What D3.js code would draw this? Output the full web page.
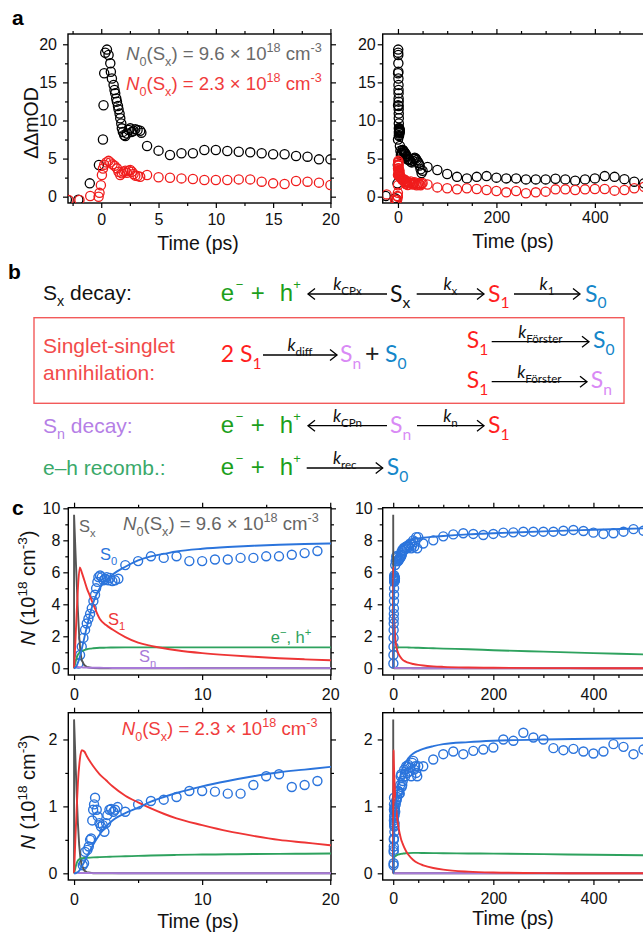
<!DOCTYPE html>
<html>
<head>
<meta charset="utf-8">
<script src="https://cdn.jsdelivr.net/npm/d3@7"></script>
<style>
  body { margin: 0; background: #fff; }
  svg text { font-family: "Liberation Sans", Arial, sans-serif; }
  .tick line { stroke: #000; stroke-width: 1.2; }
  .tick text { font-size: 16px; fill: #111; }
</style>
</head>
<body>
<div id="fig"></div>
<script>
// ---------- panel a : transient absorption (ΔΔmOD) ----------
var tLate = [22, 24, 26, 28, 30, 32, 34, 36, 38, 40, 42, 44, 46, 48, 50,
  60, 80, 100, 120, 140, 160, 180, 200, 220, 240, 260, 280, 300, 320, 340, 360, 380, 400, 420, 440, 460, 480, 500];

var tBlack = [-25, -6, -3, -2, -1, -0.2, 0.15, 0.2, 0.26, 0.35, 0.5, 0.64, 0.79, 0.84, 0.93, 1.08, 1.16, 1.22,
  1.31, 1.37, 1.46, 1.51, 1.6, 1.66, 1.75, 1.8, 1.89, 2.0, 2.1, 2.24, 2.39, 2.53, 2.68, 2.82, 2.97, 3.17, 3.4, 3.5,
  4, 5, 6, 7, 8, 9, 10, 11, 12, 13, 14, 15, 16, 17, 18, 19, 20].concat(tLate);
var vBlack = [0.1, -0.2, -0.4, -0.4, 1.75, 4.15, 7.5, 12, 16.2, 18.9, 19.3, 18.6, 17.5, 16.4, 15.5, 14.65, 14, 13.56,
  12.9, 12.47, 11.9, 11.46, 10.9, 10.3, 9.6, 8.97, 8.5, 8.1, 7.96, 8.3, 8.75, 8.97, 8.5, 8.66, 8.84, 8.75, 8.66, 8.4,
  6.65, 6.04, 5.47, 5.69, 5.69, 6.12, 6.12, 6.0, 5.9, 5.82, 5.69, 5.56, 5.56, 5.34, 5.25, 4.9, 4.9,
  4.9, 4.8, 4.6, 4.5, 4.7, 5.0, 5.1, 5.0, 4.8, 4.6, 4.4, 4.1, 3.6, 3.1, 3.4,
  3.9, 3.5, 2.97, 2.6, 2.4, 2.6, 2.7, 2.5, 2.4, 2.4, 2.27, 2.27, 2.27, 2.36, 2.27, 2.1, 2.27, 2.4, 2.7, 2.6, 2.3, 1.97, 1.75];

var tRed = [-23, -6, -2.85, -1.9, -0.96, -0.23, -0.15, -0.03, 0.06, 0.15, 0.26, 0.44, 0.64, 0.79, 0.99, 1.16, 1.37,
  1.51, 1.66, 1.8, 1.95, 2.1, 2.24, 2.39, 2.53, 2.68, 2.82, 2.97, 3.17, 3.4,
  4, 5, 6, 7, 8, 9, 10, 11, 12, 13, 14, 15, 16, 17, 18, 19, 20].concat(tLate);
var vRed = [0.3, -0.4, -0.44, -0.44, 0.09, 0, 0.5, 1.5, 2.84, 3.7, 4.2, 4.5, 4.7, 4.5, 4.24, 4.07, 3.72,
  3.28, 2.84, 3.06, 3.28, 3.41, 3.15, 3.41, 3.5, 3.28, 2.97, 2.76, 2.71, 2.62,
  2.84, 2.54, 2.49, 2.4, 2.32, 2.19, 2.19, 2.19, 2.27, 2.27, 1.97, 1.75, 1.66, 2.06, 1.97, 1.84, 1.53,
  1.9, 1.8, 2.0, 1.7, 1.6, 1.8, 1.9, 1.7, 1.5, 1.6, 1.8, 1.6, 1.5, 1.7, 1.8,
  1.6, 1.22, 1.1, 0.96, 1.1, 1.0, 0.87, 0.74, 0.57, 0.74, 0.44, 0.57, 0.66, 0.96, 0.96, 0.87, 0.96, 1.0, 1.0, 0.79, 0.87, 1.1, 1.3];

// ---------- panel c : S0 populations (circles) ----------
var tS0Hi = [0.34, 0.47, 0.6, 0.73, 0.86, 0.99, 1.12, 1.25, 1.38, 1.51, 1.64, 1.72, 1.82, 1.9, 2.03, 2.16, 2.29,
  2.42, 2.55, 2.68, 2.81, 2.99, 3.2, 3.46, 4, 5, 6, 7, 8, 9, 10, 11, 12, 13, 14, 15, 16, 17, 18, 19].concat(tLate);
var vS0Hi = [0.3, 0.83, 1.35, 1.9, 2.4, 2.8, 3.1, 3.4, 3.75, 4.2, 4.6, 5.0, 5.4, 5.7, 5.8, 5.7, 5.5,
  5.6, 5.7, 5.5, 5.65, 5.45, 5.5, 5.6, 6.45, 6.7, 7.0, 6.9, 7.0, 6.7, 6.7, 6.8, 6.8, 6.9, 6.9, 7.0, 7.0, 7.1, 7.2, 7.33,
  7.4, 7.5, 7.6, 7.5, 7.7, 7.6, 7.8, 7.5, 7.7, 8.0, 7.6, 7.9, 8.2, 7.5, 8.2,
  7.8, 8.0, 8.25, 8.37, 8.44, 8.4, 8.33, 8.4, 8.48, 8.5, 8.54, 8.54, 8.54, 8.54, 8.6, 8.65, 8.58, 8.48, 8.4, 8.44, 8.54, 8.7, 8.6];

var tS0Lo = [0.68, 0.78, 0.86, 1.04, 1.15, 1.25, 1.33, 1.42, 1.49, 1.56, 1.64, 1.77, 1.85, 1.98, 2.1, 2.24, 2.37,
  2.5, 2.6, 2.76, 2.89, 3.07, 3.2, 3.4, 4, 5, 6, 7, 8, 9, 10, 11, 12, 13, 14, 15, 16, 17, 18, 19].concat(tLate);
var vS0Lo = [0.12, 0.15, 0.32, 0.35, 0.4, 0.5, 0.52, 0.79, 0.95, 1.03, 1.13, 0.95, 0.85, 0.75, 0.7, 0.72, 0.62,
  0.75, 0.87, 0.95, 0.96, 0.92, 0.95, 0.99, 0.92, 1.03, 1.08, 1.1, 1.14, 1.23, 1.23, 1.22, 1.19, 1.19, 1.32, 1.45, 1.48, 1.29, 1.32, 1.38,
  1.55, 1.45, 1.6, 1.5, 1.62, 1.52, 1.58, 1.45, 1.65, 1.68, 1.55, 1.6, 1.5, 1.45, 1.6,
  1.6, 1.7, 1.78, 1.82, 1.78, 1.83, 1.85, 1.88, 2.0, 1.98, 2.1, 2.03, 2.0, 1.87, 1.84, 1.86, 1.82, 1.79, 1.82, 1.93, 1.89, 1.78, 1.85];

// ---------- panel c : kinetic model curves ----------
var tModel = [0, 0.1, 0.2, 0.3, 0.45, 0.6, 0.8, 1, 1.25, 1.5, 2, 2.5, 3, 4, 5, 6, 7, 8, 10, 12, 14, 16, 18, 20,
  25, 30, 40, 50, 60, 80, 100, 150, 200, 300, 400, 500];
var s1Hi = [0, 1.6, 3.4, 5.0, 6.3, 6.0, 5.5, 5.0, 4.5, 4.0, 3.1, 2.7, 2.42, 1.95, 1.6, 1.4, 1.25, 1.13, 0.95, 0.82, 0.72, 0.63, 0.56, 0.5,
  0.42, 0.35, 0.27, 0.21, 0.17, 0.12, 0.09, 0.05, 0.03, 0.01, 0.005, 0];
var s0Hi = [0, 0.05, 0.15, 0.35, 0.7, 1.2, 1.9, 2.6, 3.4, 4.1, 5.0, 5.5, 5.85, 6.35, 6.75, 7.0, 7.15, 7.3, 7.47, 7.58, 7.66, 7.72, 7.77, 7.8,
  7.88, 7.95, 8.05, 8.12, 8.16, 8.22, 8.27, 8.37, 8.44, 8.56, 8.66, 8.75];
var ehHi = [0, 0.35, 0.65, 0.85, 1.0, 1.07, 1.14, 1.19, 1.23, 1.25, 1.28, 1.29, 1.3, 1.31, 1.31, 1.31, 1.31, 1.31, 1.31, 1.31, 1.31, 1.31, 1.31, 1.31,
  1.31, 1.3, 1.29, 1.28, 1.27, 1.25, 1.23, 1.19, 1.13, 1.04, 0.95, 0.87];
var snHi = [0, 0.05, 0.08, 0.08, 0.07, 0.06, 0.05, 0.04, 0.035, 0.03, 0.03, 0.025, 0.02, 0.02, 0.02, 0.015, 0.015, 0.015, 0.01, 0.01, 0.01, 0.01, 0.01, 0.01,
  0.01, 0.01, 0.005, 0.005, 0, 0, 0, 0, 0, 0, 0, 0];

var s1Lo = [0, 0.5, 0.95, 1.35, 1.7, 1.84, 1.82, 1.75, 1.67, 1.6, 1.48, 1.39, 1.3, 1.16, 1.06, 0.97, 0.89, 0.82, 0.72, 0.63, 0.56, 0.5, 0.46, 0.42,
  0.34, 0.28, 0.2, 0.15, 0.12, 0.08, 0.055, 0.025, 0.012, 0.003, 0.001, 0];
var s0Lo = [0, 0, 0.01, 0.02, 0.05, 0.1, 0.17, 0.25, 0.34, 0.43, 0.58, 0.7, 0.79, 0.9, 0.98, 1.07, 1.14, 1.2, 1.3, 1.38, 1.45, 1.51, 1.55, 1.59,
  1.66, 1.72, 1.79, 1.83, 1.86, 1.9, 1.93, 1.96, 1.98, 2.0, 2.01, 2.02];
var ehLo = [0, 0.08, 0.15, 0.19, 0.215, 0.225, 0.23, 0.232, 0.235, 0.238, 0.242, 0.246, 0.25, 0.255, 0.26, 0.265, 0.27, 0.275, 0.28, 0.284, 0.288, 0.291, 0.293, 0.295,
  0.299, 0.302, 0.305, 0.305, 0.304, 0.302, 0.3, 0.297, 0.294, 0.286, 0.278, 0.27];
var snLo = [0, 0.004, 0.006, 0.006, 0.005, 0.005, 0.004, 0.004, 0.003, 0.003, 0.002, 0.002, 0.002, 0.001, 0.001, 0.001, 0.001, 0.001, 0, 0, 0, 0, 0, 0,
  0, 0, 0, 0, 0, 0, 0, 0, 0, 0, 0, 0];

var tSx = [0, 0, 0.1, 0.2, 0.3, 0.4, 0.5, 0.6, 0.8, 1, 1.5, 2, 500];
var sxHi = [0, 9.6, 7.5, 5.5, 3.6, 2.0, 1.0, 0.5, 0.2, 0.08, 0.01, 0, 0];
var sxLo = [0, 2.3, 1.75, 1.2, 0.75, 0.42, 0.22, 0.12, 0.04, 0.015, 0, 0, 0];

// colours
var cBlue = "#2b74dc", cRed = "#ee3535", cGreen = "#2ea25e", cPurple = "#a87ad8", cGray = "#555";

var svg = d3.select("#fig").append("svg")
  .attr("width", 643)
  .attr("height", 933);

// text with sub / superscripts
function rich(text, parts, fs) {
  var shift = 0;
  parts.forEach(function(p) {
    if (typeof p === "string") p = { t: p };
    var target = p.s === "sub" ? fs * 0.3 : (p.s === "sup" ? -fs * 0.42 : 0);
    text.append("tspan")
      .attr("dy", target - shift)
      .attr("font-size", p.s ? fs * 0.68 : fs)
      .attr("font-style", p.i ? "italic" : null)
      .text(p.t);
    shift = target;
  });
  return text;
}

var clipId = 0;
function panel(p) {
  var x = d3.scaleLinear().domain(p.xd).range([p.left, p.right]);
  var y = d3.scaleLinear().domain(p.yd).range([p.bottom, p.top]);
  var id = "clip" + (clipId++);
  svg.append("clipPath").attr("id", id).append("rect")
    .attr("x", p.left).attr("y", p.top)
    .attr("width", p.right - p.left).attr("height", p.bottom - p.top);

  var ax = svg.append("g");
  function put(axis, tr, major, minor, labels, pad) {
    var g1 = ax.append("g").attr("transform", tr)
      .call(axis.tickValues(major).tickSize(5).tickSizeOuter(0).tickPadding(pad || 3)
        .tickFormat(labels ? d3.format("d") : ""));
    var g2 = ax.append("g").attr("transform", tr)
      .call(axis.tickValues(minor).tickSize(3).tickFormat(""));
    g1.select(".domain").remove();
    g2.select(".domain").remove();
    return g1;
  }
  put(d3.axisBottom(x), "translate(0," + p.bottom + ")", p.xMajor, p.xMinor, true, p.xPad);
  put(d3.axisTop(x), "translate(0," + p.top + ")", p.xMajor, p.xMinor, false);
  put(d3.axisLeft(y), "translate(" + p.left + ",0)", p.yMajor, p.yMinor, true, p.yPad);
  put(d3.axisRight(y), "translate(" + p.right + ",0)", p.yMajor, p.yMinor, false);

  svg.append("rect")
    .attr("x", p.left).attr("y", p.top)
    .attr("width", p.right - p.left).attr("height", p.bottom - p.top)
    .attr("fill", "none").attr("stroke", "#000").attr("stroke-width", 1.4);

  var plot = svg.append("g").attr("clip-path", "url(#" + id + ")");
  return { x: x, y: y, plot: plot };
}

function circles(pn, ts, vs, color, r, sw) {
  pn.plot.append("g").selectAll("circle")
    .data(ts.map(function(t, i) { return [t, vs[i]]; }))
    .enter().append("circle")
    .attr("cx", function(d) { return pn.x(d[0]); })
    .attr("cy", function(d) { return pn.y(d[1]); })
    .attr("r", r)
    .attr("fill", "none")
    .attr("stroke", color)
    .attr("stroke-width", sw);
}

function curve(pn, ts, vs, color, smooth) {
  var line = d3.line()
    .x(function(d) { return pn.x(d[0]); })
    .y(function(d) { return pn.y(d[1]); })
    .curve(smooth ? d3.curveMonotoneX : d3.curveLinear);
  pn.plot.append("path")
    .datum(ts.map(function(t, i) { return [t, vs[i]]; }))
    .attr("d", line)
    .attr("fill", "none")
    .attr("stroke", color)
    .attr("stroke-width", 1.9);
}

function timeLabel(cx, by) {
  svg.append("text").attr("x", cx).attr("y", by)
    .attr("text-anchor", "middle").attr("font-size", 19.5).attr("fill", "#111")
    .text("Time (ps)");
}

function n0Label(x0, by, val, color, fs) {
  rich(svg.append("text").attr("x", x0).attr("y", by).attr("fill", color),
    [{ t: "N", i: true }, { t: "0", s: "sub" }, "(S", { t: "x", s: "sub" }, ") = " + val + " \u00d7 10",
      { t: "18", s: "sup" }, " cm", { t: "-3", s: "sup" }], fs);
}

function nAxisTitle(cy) {
  rich(svg.append("text")
      .attr("transform", "translate(35," + cy + ") rotate(-90)")
      .attr("text-anchor", "middle").attr("fill", "#111"),
    [{ t: "N", i: true }, " (10", { t: "18", s: "sup" }, " cm", { t: "-3", s: "sup" }, ")"], 20);
}

function panelLetter(l, x0, by) {
  svg.append("text").attr("x", x0).attr("y", by)
    .attr("font-size", 21).attr("font-weight", "bold").attr("fill", "#000").text(l);
}

// ================= panel a =================
var xMajA = [0, 5, 10, 15, 20], xMinA = [-2.5, 2.5, 7.5, 12.5, 17.5];
var xMajL = [0, 200, 400], xMinL = [50, 100, 150, 250, 300, 350, 450, 500];
var yMajA = [0, 5, 10, 15, 20], yMinA = [2.5, 7.5, 12.5, 17.5];

var a1 = panel({ left: 68, right: 331, top: 34, bottom: 203, xd: [-2.9, 20.05], yd: [-0.83, 21.35],
  xMajor: xMajA, xMinor: xMinA, yMajor: yMajA, yMinor: yMinA, xPad: 6, yPad: 6 });
circles(a1, tBlack, vBlack, "#000", 4.6, 1.3);
circles(a1, tRed, vRed, "#f01c1c", 4.6, 1.3);

var a2 = panel({ left: 382.7, right: 650, top: 34, bottom: 203, xd: [-31, 512], yd: [-0.83, 21.35],
  xMajor: xMajL, xMinor: xMinL, yMajor: yMajA, yMinor: yMinA, xPad: 4, yPad: 2 });
circles(a2, tBlack, vBlack, "#000", 4.6, 1.3);
circles(a2, tRed, vRed, "#f01c1c", 4.6, 1.3);

panelLetter("a", 12, 25);
svg.append("text")
  .attr("transform", "translate(38,123) rotate(-90)")
  .attr("text-anchor", "middle").attr("font-size", 19.5).attr("fill", "#111")
  .text("\u0394\u0394mOD");
timeLabel(198, 250);
timeLabel(513, 248);
n0Label(126, 60, "9.6", "#6a6a6a", 18.6);
n0Label(126, 90, "2.3", "#f03c3c", 18.6);

// ================= panel b =================
panelLetter("b", 8, 279);

var fLab = 21, fSp = 23, fEh = 24;
var cSx = "#111", cS1 = "#ff1f1f", cS0 = "#1486c9", cSn = "#d98af5", cEH = "#1c9f1c";
var spFont = "Lato, 'Open Sans', sans-serif";

function species(x0, by, main, sub, color) {
  rich(svg.append("text").attr("x", x0).attr("y", by).attr("fill", color)
    .style("font-family", spFont),
    [main, { t: sub, s: "sub" }], fSp);
}
function eh(x0, by) {
  var g = svg.append("g").attr("fill", cEH);
  g.append("text").attr("x", x0).attr("y", by).attr("font-size", fEh).text("e");
  g.append("text").attr("x", x0 + 15).attr("y", by - 12).attr("font-size", 13).text("\u2212");
  g.append("text").attr("x", x0 + 30).attr("y", by).attr("font-size", fEh).text("+");
  g.append("text").attr("x", x0 + 59).attr("y", by).attr("font-size", fEh).text("h");
  g.append("text").attr("x", x0 + 72.5).attr("y", by - 12).attr("font-size", 13).text("+");
}
function arrow(xa, xb, yy, k, sub) {
  // draws from xa to xb with the head at xb
  var dir = xb > xa ? 1 : -1;
  var g = svg.append("g").attr("stroke", "#000").attr("stroke-width", 1.3).attr("fill", "none");
  g.append("line").attr("x1", xa).attr("x2", xb).attr("y1", yy).attr("y2", yy);
  g.append("path").attr("d", "M" + (xb - dir * 7) + "," + (yy - 5.5) + "L" + xb + "," + yy + "L" + (xb - dir * 7) + "," + (yy + 5.5));
  rich(svg.append("text").attr("x", (xa + xb) / 2).attr("y", yy - 4)
      .attr("text-anchor", "middle").attr("fill", "#111")
      .style("font-family", spFont),
    [{ t: "k", i: true }, { t: sub, s: "sub" }], 17);
}

// row 1
rich(svg.append("text").attr("x", 43).attr("y", 300).attr("fill", cSx), ["S", { t: "x", s: "sub" }, " decay:"], fLab);
eh(220.7, 301);
arrow(387, 308, 294, "k", "CPx");
species(390, 301.5, "S", "x", cSx);
arrow(416.7, 484, 294, "k", "x");
species(488, 301.5, "S", "1", cS1);
arrow(514, 580, 294, "k", "1");
species(585, 301.5, "S", "0", cS0);

// annihilation box
svg.append("rect").attr("x", 34).attr("y", 317.7).attr("width", 590).attr("height", 85.6)
  .attr("fill", "none").attr("stroke", "#f25a5a").attr("stroke-width", 1.4);
svg.append("text").attr("x", 43).attr("y", 352.5).attr("font-size", fLab).attr("fill", "#f24b4b").text("Singlet-singlet");
svg.append("text").attr("x", 43).attr("y", 380).attr("font-size", fLab).attr("fill", "#f24b4b").text("annihilation:");
rich(svg.append("text").attr("x", 220.7).attr("y", 361.7).attr("fill", cS1)
    .style("font-family", spFont),
  ["2 S", { t: "1", s: "sub" }], fSp);
arrow(263, 337, 355, "k", "diff");
species(340, 361.7, "S", "n", cSn);
svg.append("text").attr("x", 365).attr("y", 361.7).attr("font-size", 25).attr("fill", "#222")
  .style("font-family", spFont).text("+");
species(385, 361.7, "S", "0", cS0);
species(466.7, 348, "S", "1", cS1);
arrow(491.7, 589, 341.7, "k", "F\u00f6rster");
species(593, 348, "S", "0", cS0);
species(466.7, 388, "S", "1", cS1);
arrow(491.7, 587, 381.7, "k", "F\u00f6rster");
species(590.7, 388, "S", "n", cSn);

// row 3
rich(svg.append("text").attr("x", 43).attr("y", 433).attr("fill", "#b57fe6"), ["S", { t: "n", s: "sub" }, " decay:"], fLab);
eh(220.7, 433);
arrow(387, 308, 425.7, "k", "CPn");
species(390, 433, "S", "n", cSn);
arrow(417, 484, 425.7, "k", "n");
species(488, 433, "S", "1", cS1);

// row 4
svg.append("text").attr("x", 43).attr("y", 475).attr("font-size", fLab).attr("fill", "#3aa96a").text("e\u2013h recomb.:");
eh(220.7, 475);
arrow(306.7, 382.7, 468, "k", "rec");
species(386.7, 475, "S", "0", cS0);

// ================= panel c =================
var xMajC = [0, 10, 20], xMinC = [5, 15];
var c1 = panel({ left: 68.3, right: 331, top: 507.7, bottom: 675, xd: [-0.45, 20.06], yd: [-0.42, 10.04],
  xMajor: xMajC, xMinor: xMinC, yMajor: [0, 2, 4, 6, 8, 10], yMinor: [1, 3, 5, 7, 9], xPad: 9, yPad: 3 });
var c2 = panel({ left: 382.7, right: 650, top: 507.7, bottom: 675, xd: [-21, 513], yd: [-0.42, 10.04],
  xMajor: xMajL, xMinor: xMinL, yMajor: [0, 2, 4, 6, 8, 10], yMinor: [1, 3, 5, 7, 9], xPad: 9, yPad: 5 });
var c3 = panel({ left: 68.3, right: 331, top: 712.7, bottom: 880, xd: [-0.45, 20.06], yd: [-0.1, 2.4],
  xMajor: xMajC, xMinor: xMinC, yMajor: [0, 1, 2], yMinor: [0.5, 1.5], xPad: 9, yPad: 6 });
var c4 = panel({ left: 382.7, right: 650, top: 712.7, bottom: 880, xd: [-21, 513], yd: [-0.1, 2.4],
  xMajor: xMajL, xMinor: xMinL, yMajor: [0, 1, 2], yMinor: [0.5, 1.5], xPad: 8, yPad: 5 });

// Sx first so the purple Sn line stays visible along zero
[[c1, tS0Hi, vS0Hi, sxHi, s1Hi, s0Hi, ehHi, snHi], [c2, tS0Hi, vS0Hi, sxHi, s1Hi, s0Hi, ehHi, snHi],
 [c3, tS0Lo, vS0Lo, sxLo, s1Lo, s0Lo, ehLo, snLo], [c4, tS0Lo, vS0Lo, sxLo, s1Lo, s0Lo, ehLo, snLo]]
  .forEach(function(s) {
    var pn = s[0];
    circles(pn, s[1], s[2], cBlue, 4.5, 1.4);
    curve(pn, tSx, s[3], cGray, false);
    curve(pn, tModel, s[7], cPurple, true);
    curve(pn, tModel, s[6], cGreen, true);
    curve(pn, tModel, s[4], cRed, true);
    curve(pn, tModel, s[5], cBlue, true);
  });

panelLetter("c", 12, 515);
nAxisTitle(588);
nAxisTitle(792);
timeLabel(198, 928);
timeLabel(513, 925);
n0Label(123, 530, "9.6", "#666", 18.6);
n0Label(121.7, 735, "2.3", "#f03c3c", 18.6);

function tag(x0, by, parts, color) {
  rich(svg.append("text").attr("x", x0).attr("y", by).attr("fill", color), parts, 16.5);
}
tag(79, 532, ["S", { t: "x", s: "sub" }], "#666");
tag(100, 560, ["S", { t: "0", s: "sub" }], cBlue);
tag(108, 625, ["S", { t: "1", s: "sub" }], cRed);
tag(270.7, 643, ["e", { t: "\u2212", s: "sup" }, ", h", { t: "+", s: "sup" }], cGreen);
tag(139, 662, ["S", { t: "n", s: "sub" }], cPurple);
</script>
</body>
</html>
